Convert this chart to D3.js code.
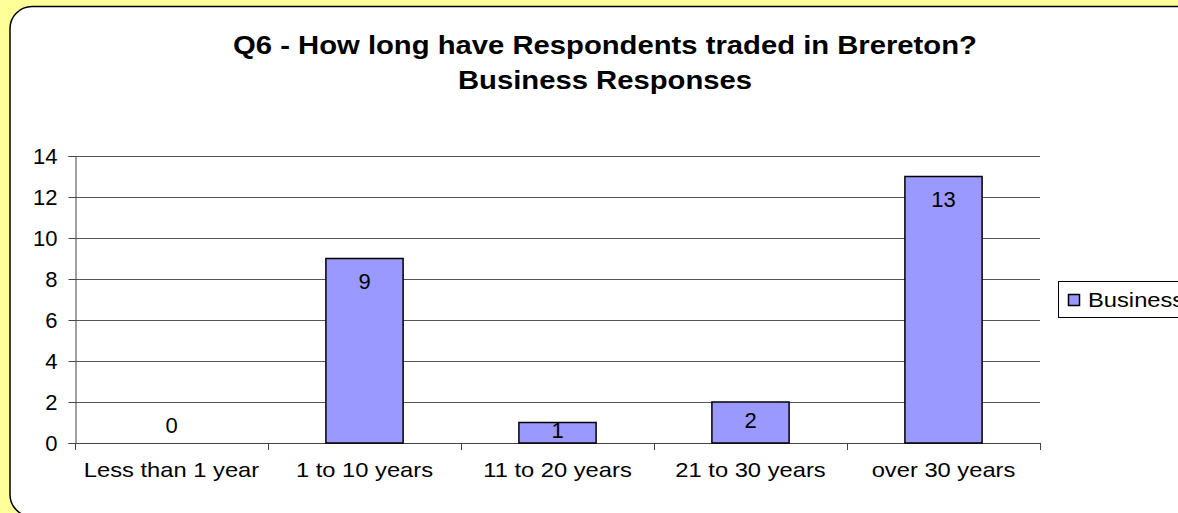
<!DOCTYPE html>
<html><head><meta charset="utf-8">
<script src="https://cdn.jsdelivr.net/npm/d3@7"></script>
<style>html,body{margin:0;padding:0;background:#FFFF99;overflow:hidden}</style>
</head><body>
<svg id="c" width="1178" height="513"></svg>
<script>
const categories = ["Less than 1 year", "1 to 10 years", "11 to 20 years", "21 to 30 years", "over 30 years"];
const values = [0, 9, 1, 2, 13];
const yTicks = [0, 2, 4, 6, 8, 10, 12, 14];
const seriesName = "Business";
const titleLines = ["Q6 - How long have Respondents traded in Brereton?", "Business Responses"];

const svg = d3.select("#c");
const font = "'Liberation Sans', Arial, sans-serif";

// background panel
svg.append("rect").attr("x", 0).attr("y", 0).attr("width", 1178).attr("height", 513).attr("fill", "#FFFF99");
svg.append("rect").attr("x", 11).attr("y", 7.5).attr("width", 1220).attr("height", 510)
  .attr("rx", 22).attr("ry", 22).attr("fill", "#333").attr("stroke", "none");
svg.append("rect").attr("x", 10).attr("y", 6.5).attr("width", 1220).attr("height", 510)
  .attr("rx", 22).attr("ry", 22).attr("fill", "#fff").attr("stroke", "#000").attr("stroke-width", 1.5);

const m = {left: 75, right: 1040, top: 156, bottom: 443};
const x = d3.scaleBand().domain(categories).range([m.left, m.right]).paddingInner(0.6).paddingOuter(0.3);
const xc = d3.scaleBand().domain(categories).range([m.left, m.right]);
const y = d3.scaleLinear().domain([0, 14]).range([m.bottom, m.top]);

// gridlines
svg.append("g").selectAll("line").data(yTicks.filter(t => t > 0)).join("line")
  .attr("x1", m.left).attr("x2", m.right)
  .attr("y1", d => Math.round(y(d)) + 0.5).attr("y2", d => Math.round(y(d)) + 0.5)
  .attr("stroke", "#555").attr("stroke-width", 1);

// y axis
const ya = svg.append("g").attr("transform", `translate(${m.left + 0.5},0)`)
  .call(d3.axisLeft(y).tickValues(yTicks).tickSize(7).tickPadding(11));
ya.select(".domain").attr("stroke", "#444");
ya.selectAll(".tick line").attr("stroke", "#444");
ya.selectAll("text").attr("font-family", font).attr("font-size", 22).attr("fill", "#000");

// x axis line and ticks
svg.append("line").attr("x1", m.left).attr("x2", m.right).attr("y1", m.bottom + 0.5).attr("y2", m.bottom + 0.5)
  .attr("stroke", "#444");
const bounds = categories.map(c => xc(c)).concat([m.right]);
svg.append("g").selectAll("line").data(bounds).join("line")
  .attr("x1", d => Math.round(d) + 0.5).attr("x2", d => Math.round(d) + 0.5)
  .attr("y1", m.bottom).attr("y2", m.bottom + 7).attr("stroke", "#444");

// stretched category labels
svg.append("g").selectAll("text").data(categories).join("text")
  .attr("transform", d => `translate(${xc(d) + xc.bandwidth() / 2},${m.bottom + 34}) scale(1.13,1)`)
  .attr("text-anchor", "middle").attr("font-family", font).attr("font-size", 21).attr("fill", "#000")
  .text(d => d);

// bars
const data = categories.map((c, i) => ({c, v: values[i]}));
svg.append("g").selectAll("rect").data(data.filter(d => d.v > 0)).join("rect")
  .attr("x", d => x(d.c)).attr("width", x.bandwidth())
  .attr("y", d => y(d.v)).attr("height", d => y(0) - y(d.v))
  .attr("fill", "#9999FF").attr("stroke", "#000").attr("stroke-width", 1.5);

// value labels
svg.append("g").selectAll("text").data(data).join("text")
  .attr("x", d => x(d.c) + x.bandwidth() / 2)
  .attr("y", d => {
    const h = y(0) - y(d.v);
    if (d.v === 0) return y(0) - 10;
    if (h > 50) return y(d.v) + 30;
    return (y(d.v) + y(0)) / 2 + 5;
  })
  .attr("text-anchor", "middle").attr("font-family", font).attr("font-size", 22).attr("fill", "#000")
  .text(d => d.v);

// title
svg.append("g").selectAll("text").data(titleLines).join("text")
  .attr("transform", (d, i) => `translate(605,${54 + i * 35}) scale(1.17,1)`)
  .attr("text-anchor", "middle").attr("font-family", font).attr("font-size", 25).attr("font-weight", "bold")
  .attr("fill", "#000").text(d => d);

// legend
const lg = svg.append("g");
lg.append("rect").attr("x", 1058.5).attr("y", 281.5).attr("width", 140).attr("height", 36)
  .attr("fill", "#fff").attr("stroke", "#000").attr("stroke-width", 1);
lg.append("rect").attr("x", 1068.5).attr("y", 294.5).attr("width", 11).attr("height", 11)
  .attr("fill", "#9999FF").attr("stroke", "#000").attr("stroke-width", 1.5);
lg.append("text").attr("transform", "translate(1088,307) scale(1.13,1)")
  .attr("font-family", font).attr("font-size", 21).attr("fill", "#000").text(seriesName);
</script>
</body></html>
